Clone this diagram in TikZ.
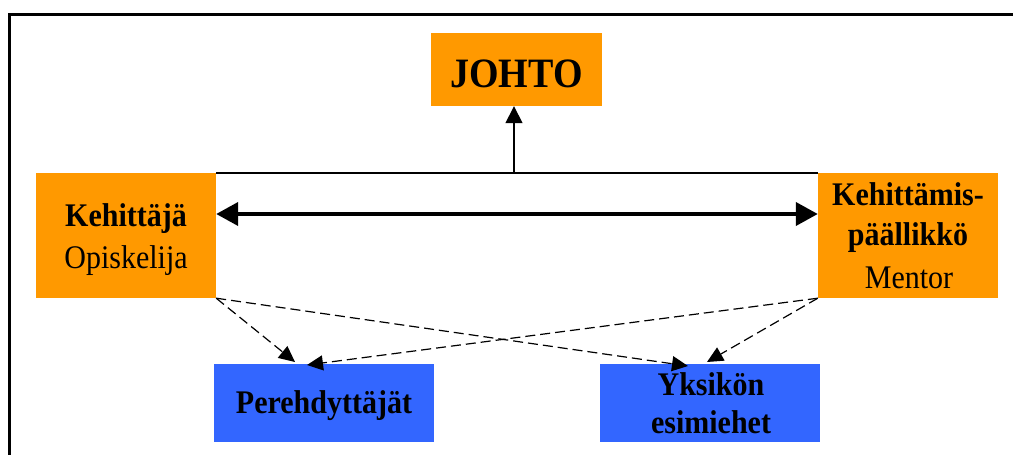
\documentclass[tikz,border=0pt]{standalone}
\usepackage{fontspec}
\usepackage{graphicx}
\setmainfont{Liberation Serif}
\usetikzlibrary{arrows.meta}
\definecolor{boxorange}{RGB}{255,153,0}
\definecolor{boxblue}{RGB}{51,102,255}
\newcommand{\tallt}[1]{\scalebox{1}[1.1]{#1}}
\tikzset{
  obox/.style={fill=boxorange, draw=none, inner sep=0pt, minimum width=#1},
  bbox/.style={fill=boxblue, draw=none, inner sep=0pt},
  lbl/.style={anchor=base, inner sep=0pt, font=\fontsize{30}{36}\selectfont},
  blbl/.style={lbl, font=\fontsize{30}{36}\selectfont\bfseries},
  dasharrow/.style={draw, line width=1.2pt, dash pattern=on 10pt off 5pt, -{Triangle[width=15pt,length=16pt]}},
}
\begin{document}
\begin{tikzpicture}[x=1pt,y=-1pt]
\useasboundingbox (0,0) rectangle (1013,455);
\clip (0,0) rectangle (1013,455);
% frame
\draw[line width=2.5pt] (9.5,470) -- (9.5,14.3) -- (1030,14.3);
% boxes
\node[obox=171pt, minimum height=73pt] (johto) at (516.5,69.5) {};
\node[obox=180pt, minimum height=125pt] (keh) at (126,235.5) {};
\node[obox=180pt, minimum height=125pt] (kp) at (908,235.5) {};
\node[bbox, minimum width=220pt, minimum height=78pt] (pere) at (324,403) {};
\node[bbox, minimum width=220pt, minimum height=78pt] (yks) at (710,403) {};
% texts
\node[lbl, font=\fontsize{38}{44}\selectfont\bfseries] (tjohto) at (516.5,87) {\tallt{JOHTO}};
\node[blbl] (tkeh) at (126,226) {\tallt{Kehittäjä}};
\node[lbl] (topi) at (126,268) {\tallt{Opiskelija}};
\node[blbl] (tkp1) at (908,205) {\tallt{Kehittämis-}};
\node[blbl] (tkp2) at (908,245) {\tallt{päällikkö}};
\node[lbl] (tment) at (909,288) {\tallt{Mentor}};
\node[blbl] (tpere) at (324,413) {\tallt{Perehdyttäjät}};
\node[blbl] (tyks1) at (711,395) {\tallt{Yksikön}};
\node[blbl] (tyks2) at (711,433) {\tallt{esimiehet}};
% connectors
\coordinate (jfoot) at (514,172.5);
\draw[line width=1.5pt] (keh.north east) -- (kp.north west);
\draw[line width=1.5pt, -{Triangle[width=17pt,length=17pt]}] (jfoot) -- (jfoot |- johto.south);
\draw[line width=4pt, {Triangle[width=23pt,length=22pt]}-{Triangle[width=23pt,length=22pt]}] (keh.east |- 0,214) -- (kp.west |- 0,214);
\coordinate (t1) at (295,362);
\coordinate (t2) at (307,365);
\coordinate (t3) at (707,362);
\coordinate (t4) at (688,366);
\draw[dasharrow] (keh.south east) -- (t1);
\draw[dasharrow] (kp.south west) -- (t2);
\draw[dasharrow] (kp.south west) -- (t3);
\draw[dasharrow] (keh.south east) -- (t4);
\end{tikzpicture}
\end{document}
